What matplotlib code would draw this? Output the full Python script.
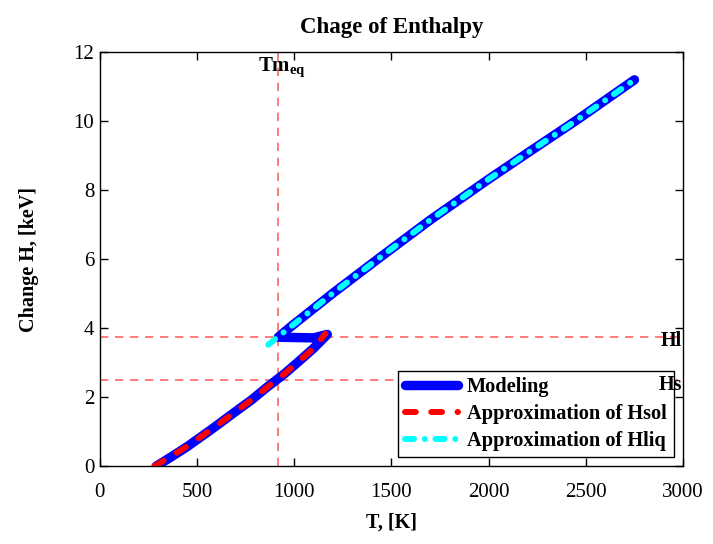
import numpy as np
import matplotlib
matplotlib.use('Agg')
import matplotlib.pyplot as plt

plt.rcParams['font.family'] = 'Liberation Serif'
plt.rcParams['mathtext.fontset'] = 'custom'
plt.rcParams['mathtext.rm'] = 'Liberation Serif'
plt.rcParams['mathtext.bf'] = 'Liberation Serif:bold'

# Modeling curve: solid branch, jump back at melting, liquid branch
T_sol = [290, 370, 450, 570, 690, 780, 860, 950, 1030, 1100, 1170]
H_sol = [0.0, 0.28, 0.57, 1.05, 1.55, 1.92, 2.29, 2.68, 3.07, 3.42, 3.82]
T_jump = [1170, 1100, 1000, 918]
H_jump = [3.82, 3.72, 3.73, 3.74]
T_liq = [918, 979, 1200, 1443, 1700, 2000, 2216, 2450, 2750]
H_liq = [3.74, 4.03, 5.02, 6.06, 7.14, 8.32, 9.14, 10.02, 11.2]

# approximations
T_hsol = [280, 370, 450, 570, 690, 780, 860, 950, 1030, 1100, 1160]
H_hsol = [0.0, 0.3, 0.58, 1.05, 1.55, 1.92, 2.29, 2.68, 3.07, 3.42, 3.84]
T_hliq = [866, 918, 979, 1200, 1443, 1700, 2000, 2216, 2450, 2750]
H_hliq = [3.52, 3.76, 4.03, 5.02, 6.06, 7.14, 8.32, 9.14, 10.02, 11.2]

Tm_eq = 915
Hl = 3.74
Hs = 2.49

fig = plt.figure(figsize=(7.13, 5.44), dpi=100)
ax = fig.add_axes([0.140, 0.143, 0.818, 0.761])

ax.axvline(Tm_eq, color='#ff6666', ls=(0, (5, 4)), lw=1.2, zorder=1)
ax.axhline(Hl, color='#ff6666', ls=(0, (5, 4)), lw=1.2, zorder=1)
ax.axhline(Hs, color='#ff6666', ls=(0, (5, 4)), lw=1.2, zorder=1)

T_mod = T_sol + T_jump[1:] + T_liq[1:]
H_mod = H_sol + H_jump[1:] + H_liq[1:]
ax.plot(T_mod, H_mod, color='#0000ff', lw=6.8, solid_capstyle='round',
        solid_joinstyle='round', label='Modeling', zorder=2)
ax.plot(T_hsol, H_hsol, color='#ff0000', lw=4.3, ls=(0, (1.8, 2.6)),
        dash_capstyle='round', label='Approximation of Hsol', zorder=3)
ax.plot(T_hliq, H_hliq, color='#00ffff', lw=4.3, ls=(0, (1.5, 1.8, 0.01, 1.8)),
        dash_capstyle='round', label='Approximation of Hliq', zorder=3)

ax.set_xlim(0, 3000)
ax.set_ylim(0, 12)
ax.set_xticks(np.arange(0, 3001, 500))
ax.set_yticks(np.arange(0, 13, 2))
ax.tick_params(direction='in', length=6, width=1, top=True, right=True,
               labelsize=15)
ax.tick_params(axis='x', pad=12)
ax.tick_params(axis='y', pad=4)
for s in ax.spines.values():
    s.set_linewidth(1)

ax.set_title('Chage of Enthalpy', fontsize=16.5, fontweight='bold', pad=14)
ax.set_xlabel('T, [K]', fontsize=14.5, fontweight='bold', labelpad=8)
ax.set_ylabel('Change H, [keV]', fontsize=14.5, fontweight='bold', labelpad=25)

ax.text(Tm_eq - 100, 11.55, r'$\mathbf{Tm_{eq}}$', fontsize=15, va='center', ha='left')
ax.text(2995, Hl - 0.12, 'Hl', fontsize=14.5, fontweight='bold', ha='right', va='center', zorder=10)
ax.text(2995, Hs - 0.14, 'Hs', fontsize=14.5, fontweight='bold', ha='right', va='center', zorder=10)

leg = ax.legend(loc='lower left', bbox_to_anchor=(0.512, 0.022, 0.473, 0.207),
                mode='expand', prop={'weight': 'bold', 'size': 14.7},
                handlelength=2.6, fancybox=False, framealpha=1,
                edgecolor='black', borderaxespad=0, borderpad=0.3,
                labelspacing=0.35, handletextpad=0.45)
leg.get_frame().set_linewidth(1)
leg.set_zorder(5)

fig.savefig('out.png', dpi=100)
